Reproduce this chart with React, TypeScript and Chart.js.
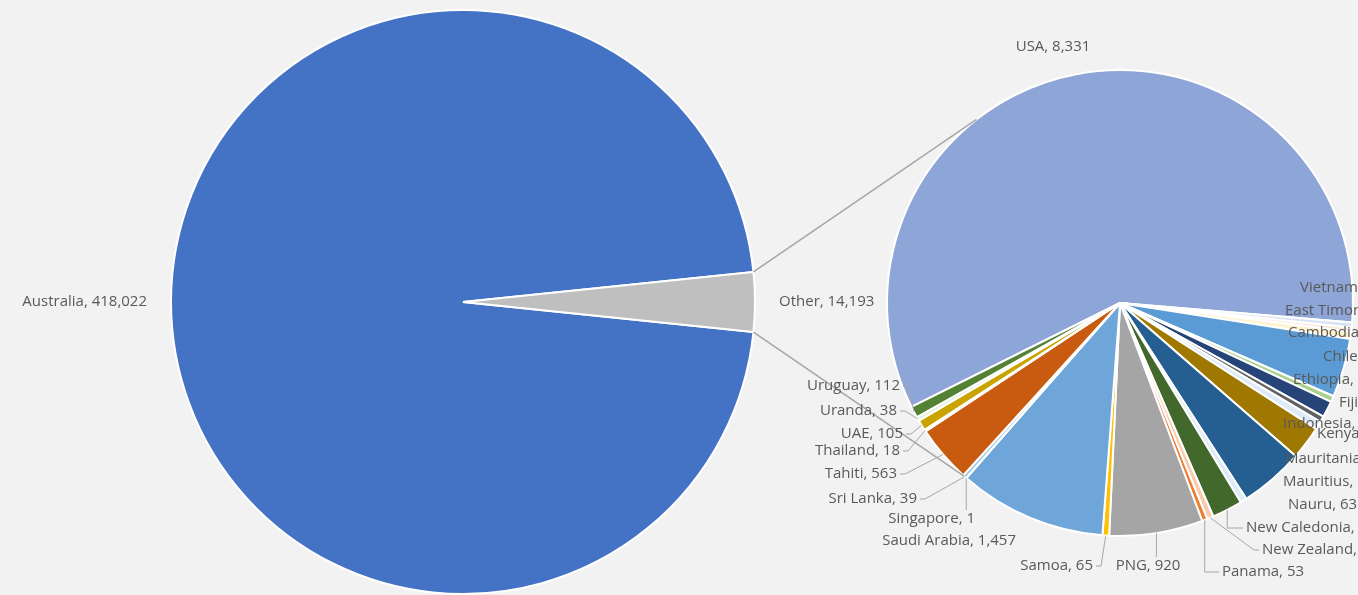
import React, { useEffect, useRef } from 'react';
import { Chart, registerables } from 'chart.js';

Chart.register(...registerables);

// ---------- data ----------
const mainCategories = ['Australia', 'Other'];
const mainValues = [418022, 14193];
const mainColors = ['#4472C4', '#BFBFBF'];

const subCategories = [
  'USA', 'Vietnam', 'East Timor', 'Cambodia', 'Chile', 'Ethiopia', 'Fiji', 'Indonesia',
  'Kenya', 'Mauritania', 'Mauritius', 'Nauru', 'New Caledonia', 'New Zealand', 'Panama',
  'PNG', 'Samoa', 'Saudi Arabia', 'Singapore', 'Sri Lanka', 'Tahiti', 'Thailand', 'UAE',
  'Uranda', 'Uruguay',
];
const subValues = [
  8331, 50, 40, 70, 580, 60, 160, 60,
  80, 330, 635, 63, 300, 63, 53,
  920, 65, 1457, 1, 39, 563, 18, 105,
  38, 112,
];
const subColors = [
  '#8EA5D7', '#DAE3F3', '#FBE5D6', '#FFF2CC', '#5B9BD5', '#A9D18E', '#264478', '#636363',
  '#DEEBF7', '#9E7800', '#255E91', '#DDEBF7', '#43682B', '#F8CBAD', '#ED7D31',
  '#A5A5A5', '#FFC000', '#6FA6DA', '#FFFFFF', '#9DC3E6', '#C95B10', '#9DC3E6', '#C9A300',
  '#E2F0D9', '#548235',
];

// ---------- styling / layout ----------
const W = 1358;
const H = 595;
const BG = '#F2F2F2';
const FONT = '15px "Open Sans"';
const TEXT = '#595959';
const LINE = '#A6A6A6';
const SUB_ROTATION = 243.5;
const CONNECT_CENTER = 272;
const CONNECT_SPREAD = 50;

type Lay = { dx: number; dy: number; align: 'left' | 'right' | 'center'; leader: 'none' | 'h' | 'v' | 'L' };
const subLabelLayout: Record<string, Lay> = {
  'USA': { dx: -67, dy: -256, align: 'center', leader: 'none' },
  'Vietnam': { dx: 180, dy: -15, align: 'left', leader: 'none' },
  'East Timor': { dx: 165, dy: 8, align: 'left', leader: 'none' },
  'Cambodia': { dx: 168, dy: 30, align: 'left', leader: 'none' },
  'Chile': { dx: 203, dy: 54, align: 'left', leader: 'none' },
  'Ethiopia': { dx: 173, dy: 77, align: 'left', leader: 'none' },
  'Fiji': { dx: 219, dy: 100, align: 'left', leader: 'none' },
  'Indonesia': { dx: 163, dy: 121, align: 'left', leader: 'none' },
  'Kenya': { dx: 197, dy: 131, align: 'left', leader: 'none' },
  'Mauritania': { dx: 165, dy: 156, align: 'left', leader: 'none' },
  'Mauritius': { dx: 163, dy: 179, align: 'left', leader: 'none' },
  'Nauru': { dx: 168, dy: 202, align: 'left', leader: 'none' },
  'New Caledonia': { dx: 126, dy: 225, align: 'left', leader: 'L' },
  'New Zealand': { dx: 142, dy: 247, align: 'left', leader: 'h' },
  'Panama': { dx: 102, dy: 269, align: 'left', leader: 'L' },
  'PNG': { dx: 28, dy: 263, align: 'center', leader: 'v' },
  'Samoa': { dx: -27, dy: 263, align: 'right', leader: 'h' },
  'Saudi Arabia': { dx: -104, dy: 238, align: 'right', leader: 'none' },
  'Singapore': { dx: -145, dy: 216, align: 'right', leader: 'v' },
  'Sri Lanka': { dx: -203, dy: 196, align: 'right', leader: 'h' },
  'Tahiti': { dx: -223, dy: 171, align: 'right', leader: 'h' },
  'Thailand': { dx: -220, dy: 148, align: 'right', leader: 'h' },
  'UAE': { dx: -217, dy: 131, align: 'right', leader: 'h' },
  'Uranda': { dx: -223, dy: 108, align: 'right', leader: 'h' },
  'Uruguay': { dx: -220, dy: 83, align: 'right', leader: 'h' },
};

const fmt = (v: number) => v.toLocaleString('en-US');
const sum = (a: number[]) => a.reduce((s, v) => s + v, 0);

export default function App() {
  const mainRef = useRef<HTMLCanvasElement | null>(null);
  const subRef = useRef<HTMLCanvasElement | null>(null);

  useEffect(() => {
    if (!mainRef.current || !subRef.current) return;
    const otherDeg = (mainValues[1] / sum(mainValues)) * 360;

    const mainLabels = {
      id: 'mainLabels',
      afterDatasetsDraw(chart: any) {
        const ctx = chart.ctx;
        const meta = chart.getDatasetMeta(0);
        ctx.save();
        ctx.font = FONT;
        ctx.fillStyle = TEXT;
        ctx.textBaseline = 'middle';
        meta.data.forEach((arc: any, i: number) => {
          const mid = (arc.startAngle + arc.endAngle) / 2;
          const R = arc.outerRadius + 24;
          const x = arc.x + Math.cos(mid) * R;
          const y = arc.y + Math.sin(mid) * R;
          ctx.textAlign = Math.cos(mid) < 0 ? 'right' : 'left';
          ctx.fillText(`${mainCategories[i]}, ${fmt(mainValues[i])}`, x, y);
        });
        ctx.restore();
      },
    };

    const main = new Chart(mainRef.current, {
      type: 'pie',
      data: {
        labels: mainCategories,
        datasets: [{ data: mainValues, backgroundColor: mainColors, borderColor: '#FFFFFF', borderWidth: 2 }],
      },
      options: {
        responsive: false,
        animation: false,
        events: [],
        rotation: 90 + otherDeg / 2,
        layout: { padding: { left: 170, right: 602, top: 9, bottom: 0 } },
        plugins: { legend: { display: false }, tooltip: { enabled: false } },
      },
      plugins: [mainLabels],
    } as any);

    const subLabels = {
      id: 'subLabels',
      afterDatasetsDraw(chart: any) {
        const ctx = chart.ctx;
        const meta = chart.getDatasetMeta(0);
        const mainMeta = main.getDatasetMeta(0);
        const other: any = mainMeta.data[1];
        const first: any = meta.data[0];
        ctx.save();
        // connector lines
        if (other && first) {
          const cx = first.x, cy = first.y, r = first.outerRadius;
          const toRad = (deg: number) => ((deg - 90) * Math.PI) / 180;
          const a1 = toRad(CONNECT_CENTER + CONNECT_SPREAD);
          const a2 = toRad(CONNECT_CENTER - CONNECT_SPREAD);
          const p1 = { x: other.x + Math.cos(other.startAngle) * other.outerRadius, y: other.y + Math.sin(other.startAngle) * other.outerRadius };
          const p2 = { x: other.x + Math.cos(other.endAngle) * other.outerRadius, y: other.y + Math.sin(other.endAngle) * other.outerRadius };
          ctx.strokeStyle = LINE;
          ctx.lineWidth = 1.5;
          ctx.beginPath();
          ctx.moveTo(p1.x, p1.y);
          ctx.lineTo(cx + Math.cos(a1) * r, cy + Math.sin(a1) * r);
          ctx.moveTo(p2.x, p2.y);
          ctx.lineTo(cx + Math.cos(a2) * r, cy + Math.sin(a2) * r);
          ctx.stroke();
        }
        ctx.font = FONT;
        ctx.textBaseline = 'middle';
        meta.data.forEach((arc: any, i: number) => {
          const name = subCategories[i];
          const lay = subLabelLayout[name];
          if (!lay) return;
          const mid = (arc.startAngle + arc.endAngle) / 2;
          const ex = arc.x + Math.cos(mid) * arc.outerRadius;
          const ey = arc.y + Math.sin(mid) * arc.outerRadius;
          const lx = arc.x + lay.dx;
          const ly = arc.y + lay.dy;
          const text = `${name}, ${fmt(subValues[i])}`;
          ctx.textAlign = lay.align;
          ctx.fillStyle = TEXT;
          ctx.fillText(text, lx, ly);
          ctx.strokeStyle = LINE;
          ctx.lineWidth = 1;
          ctx.beginPath();
          if (lay.leader === 'h') {
            const ax = lay.align === 'right' ? lx + 3 : lx - 3;
            const stub = lay.align === 'right' ? 5 : -5;
            ctx.moveTo(ax, ly);
            ctx.lineTo(ax + stub, ly);
            ctx.lineTo(ex, ey);
          } else if (lay.leader === 'v') {
            ctx.moveTo(ex, ly - 9);
            ctx.lineTo(ex, ey);
          } else if (lay.leader === 'L') {
            ctx.moveTo(lx - 3, ly);
            ctx.lineTo(ex, ly);
            ctx.lineTo(ex, ey);
          }
          ctx.stroke();
        });
        ctx.restore();
      },
    };

    const sub = new Chart(subRef.current, {
      type: 'pie',
      data: {
        labels: subCategories,
        datasets: [{ data: subValues, backgroundColor: subColors, borderColor: '#FFFFFF', borderWidth: 2 }],
      },
      options: {
        responsive: false,
        animation: false,
        events: [],
        rotation: SUB_ROTATION,
        layout: { padding: { left: 886, right: 4, top: 69, bottom: 58 } },
        plugins: { legend: { display: false }, tooltip: { enabled: false } },
      },
      plugins: [subLabels],
    } as any);

    const fonts: any = (document as any).fonts;
    if (fonts && fonts.load) {
      fonts.load(FONT).then(() => { main.update(); sub.update(); }).catch(() => {});
    }

    return () => {
      sub.destroy();
      main.destroy();
    };
  }, []);

  return (
    <div style={{ position: 'fixed', left: 0, top: 0, width: W, height: H, background: BG, overflow: 'hidden' }}>
      <canvas ref={mainRef} width={W} height={H} style={{ position: 'absolute', left: 0, top: 0 }} />
      <canvas ref={subRef} width={W} height={H} style={{ position: 'absolute', left: 0, top: 0 }} />
    </div>
  );
}
